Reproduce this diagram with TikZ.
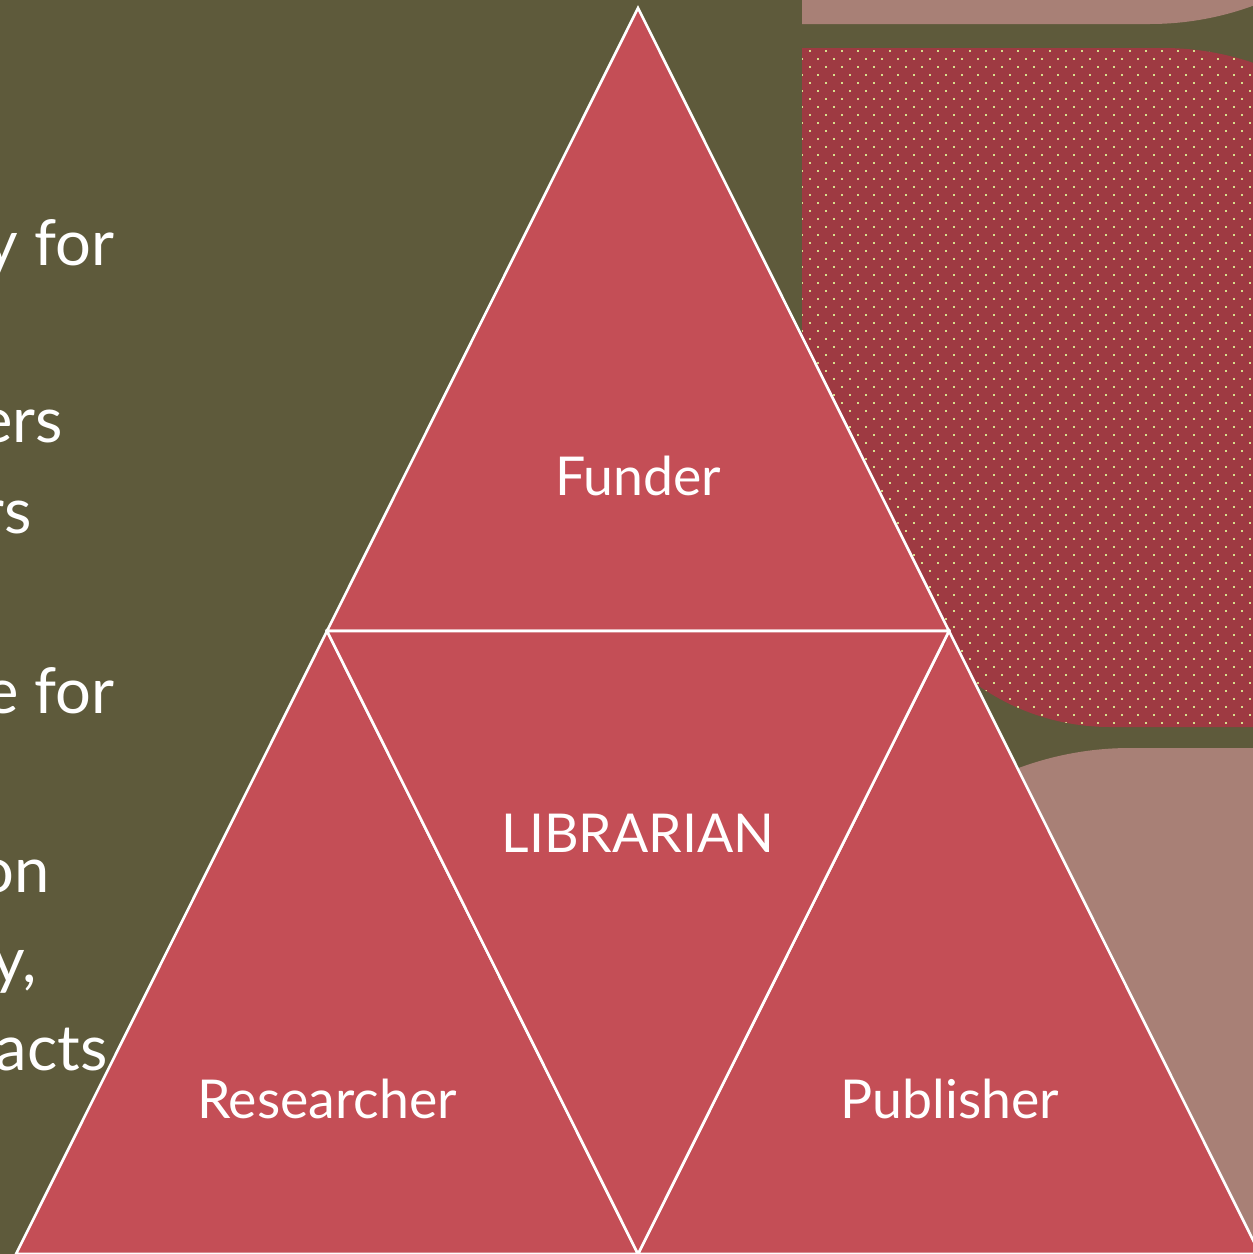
\documentclass[tikz,border=0pt]{standalone}
\usepackage{fontspec}
\setmainfont{Lato}
\usepackage{xcolor}
\usetikzlibrary{calc}

\definecolor{olive}{HTML}{5E5A3B}
\definecolor{tri}{HTML}{C44E56}
\definecolor{dotred}{HTML}{9E3A42}
\definecolor{rose}{HTML}{A88076}
\definecolor{speck}{HTML}{D7DE8C}

\begin{document}
\begin{tikzpicture}[
    x=0.02cm, y=-0.02cm,
    piece/.style={fill=tri, draw=white, line width=1.5pt, line join=miter},
    role/.style={text=white, font=\fontsize{30.5}{38}\selectfont, anchor=base, inner sep=0pt},
    side/.style={text=white, font=\fontsize{36}{44}\selectfont, anchor=base east, inner sep=0pt}
]
\useasboundingbox (0,0) rectangle (1253,1254);
\clip (0,0) rectangle (1253,1254);
\fill[olive] (0,0) rectangle (1253,1254);

% shapes on the right
\fill[rose] (802,-10) -- (802,24) -- (1150,24) arc[start angle=90, end angle=60, radius=300] -- (1300,-10) -- cycle;
\fill[rose] (1300,748) -- (1130,748) arc[start angle=-90, end angle=-150, radius=320] -- (850,1300) -- (1300,1300) -- cycle;

\begin{scope}
\clip (802,48) -- (1163,48) arc[start angle=-90, end angle=0, radius=280] -- (1443,727) -- (1110,727) arc[start angle=90, end angle=180, radius=230] -- (802,497) -- cycle;
\fill[dotred] (790,40) rectangle (1260,740);
\foreach \r in {0,...,85} {
  \pgfmathsetmacro{\yy}{51+8*\r}
  \pgfmathsetmacro{\xo}{802+8*mod(\r+1,2)}
  \foreach \c in {0,...,28} {
    \fill[speck] ({\xo+16*\c-0.8},{\yy-0.8}) rectangle ++(1.6,1.6);
  }
}
\end{scope}

% cut-off text on the left
\node[side] (t1) at (115,265) {y for};
\node[side] (t2) at (63,442) {ers};
\node[side] (t3) at (32,533) {rs};
\node[side] (t4) at (115,713) {e for};
\node[side] (t5) at (50,892) {on};
\node[side] (t6) at (37,982) {y,};
\node[side] (t7) at (108,1070) {acts};

% the triangle
\coordinate (top) at (638,8);
\coordinate (bl) at (16,1254);
\coordinate (br) at (1260,1254);
\coordinate (ml) at (327,631);
\coordinate (mr) at (949,631);
\coordinate (mb) at (638,1254);

\draw[piece] (top) -- (mr) -- (ml) -- cycle;
\draw[piece] (ml) -- (mb) -- (bl) -- cycle;
\draw[piece] (mr) -- (br) -- (mb) -- cycle;
\draw[piece] (ml) -- (mr) -- (mb) -- cycle;

\node[role] (funder) at (638,495) {Funder};
\node[role] (lib) at (638,852) {LIBRARIAN};
\node[role] (res) at (327,1118) {Researcher};
\node[role] (pub) at (950,1118) {Publisher};

\end{tikzpicture}
\end{document}
